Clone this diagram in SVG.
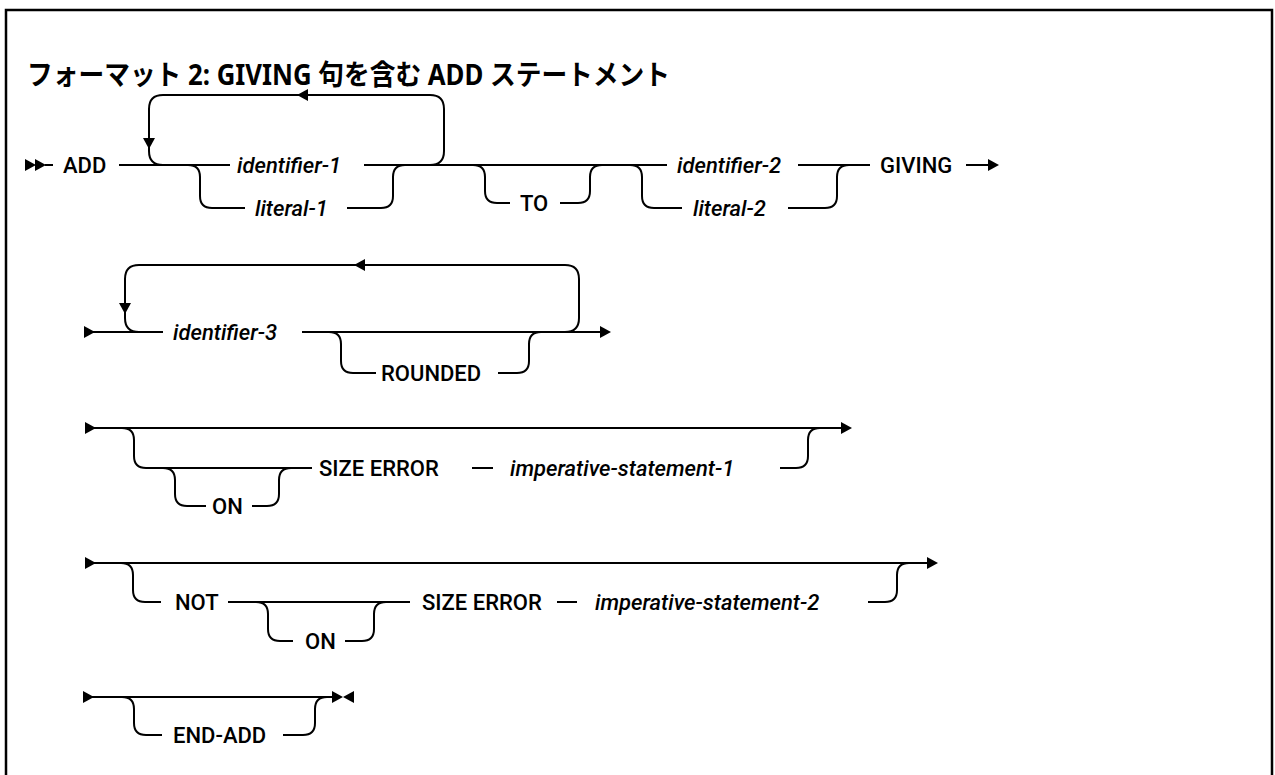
<svg xmlns="http://www.w3.org/2000/svg" width="1275" height="775" viewBox="0 0 1275 775">
<style>
.ln{fill:none;stroke:#000;stroke-width:2}
.ah{fill:#000;stroke:none}
.t{font-family:Roboto,"Noto Sans","Liberation Sans",sans-serif;font-size:22px;font-weight:500;fill:#000}
.i{font-style:italic}
.title{font-family:"Noto Sans","Noto Sans CJK JP",sans-serif;font-size:28px;font-weight:700;fill:#000}
</style>
<defs>
<path id="tr" d="M0,-6 L11,0 L0,6 Z" class="ah"/>
<path id="tl" d="M0,0 L11,-6 L11,6 Z" class="ah"/>
<path id="td" d="M-6,-11 L6,-11 L0,0 Z" class="ah"/>
</defs>
<rect x="6" y="10" width="1266" height="800" fill="#fff" stroke="#000" stroke-width="2.5"/>
<text class="title" x="27" y="85" textLength="643" lengthAdjust="spacingAndGlyphs">フォーマット 2: GIVING 句を含む ADD ステートメント</text>

<g id="connectors">
<!-- line 1 -->
<use href="#tr" x="25" y="165"/>
<use href="#tr" x="35" y="165"/>
<path class="ln" d="M45 165 L53 165"/>
<path class="ln" d="M119 165 L230 165"/>
<path class="ln" d="M430 165 Q444 165 444 151 L444 109 Q444 95 430 95 L163 95 Q149 95 149 109 L149 151 Q149 165 163 165"/>
<use href="#tl" x="297" y="95"/>
<use href="#td" x="149" y="149"/>
<path class="ln" d="M188 165 Q200 165 200 177 L200 196 Q200 208 212 208 L245 208"/>
<path class="ln" d="M347 208 L381 208 Q393 208 393 196 L393 177 Q393 165 405 165"/>
<path class="ln" d="M364 165 L667 165"/>
<path class="ln" d="M473 165 Q485 165 485 177 L485 191 Q485 203 497 203 L510 203"/>
<path class="ln" d="M560 203 L578 203 Q590 203 590 191 L590 177 Q590 165 602 165"/>
<path class="ln" d="M630 165 Q642 165 642 177 L642 196 Q642 208 654 208 L682 208"/>
<path class="ln" d="M788 208 L825 208 Q837 208 837 196 L837 177 Q837 165 849 165"/>
<path class="ln" d="M798 165 L870 165"/>
<path class="ln" d="M966 165 L989 165"/>
<use href="#tr" x="988" y="165"/>
<!-- line 2 -->
<use href="#tr" x="84" y="332"/>
<path class="ln" d="M93 332 L163 332"/>
<path class="ln" d="M565 332 Q579 332 579 318 L579 279 Q579 265 565 265 L139 265 Q125 265 125 279 L125 318 Q125 332 139 332"/>
<use href="#tl" x="354" y="265"/>
<use href="#td" x="125" y="314"/>
<path class="ln" d="M302 332 L601 332"/>
<use href="#tr" x="600" y="332"/>
<path class="ln" d="M329 332 Q341 332 341 344 L341 361 Q341 373 353 373 L376 373"/>
<path class="ln" d="M498 373 L517 373 Q529 373 529 361 L529 344 Q529 332 541 332"/>
<!-- line 3 -->
<use href="#tr" x="85" y="428"/>
<path class="ln" d="M94 428 L842 428"/>
<use href="#tr" x="841" y="428"/>
<path class="ln" d="M122 428 Q134 428 134 440 L134 456 Q134 468 146 468 L312 468"/>
<path class="ln" d="M163 468 Q175 468 175 480 L175 494 Q175 506 187 506 L206 506"/>
<path class="ln" d="M252 506 L267 506 Q279 506 279 494 L279 480 Q279 468 291 468"/>
<path class="ln" d="M472 468 L493 468"/>
<path class="ln" d="M780 468 L796 468 Q808 468 808 456 L808 440 Q808 428 820 428"/>
<!-- line 4 -->
<use href="#tr" x="85" y="563"/>
<path class="ln" d="M94 563 L928 563"/>
<use href="#tr" x="927" y="563"/>
<path class="ln" d="M121 563 Q133 563 133 575 L133 590 Q133 602 145 602 L161 602"/>
<path class="ln" d="M228 602 L410 602"/>
<path class="ln" d="M256 602 Q268 602 268 614 L268 629 Q268 641 280 641 L293 641"/>
<path class="ln" d="M345 641 L362 641 Q374 641 374 629 L374 614 Q374 602 386 602"/>
<path class="ln" d="M557 602 L577 602"/>
<path class="ln" d="M868 602 L885 602 Q897 602 897 590 L897 575 Q897 563 909 563"/>
<!-- line 5 -->
<use href="#tr" x="83" y="697"/>
<path class="ln" d="M92 697 L334 697"/>
<use href="#tr" x="332" y="697"/>
<use href="#tl" x="343" y="697"/>
<path class="ln" d="M122 697 Q134 697 134 709 L134 723 Q134 735 146 735 L162 735"/>
<path class="ln" d="M283 735 L303 735 Q315 735 315 723 L315 709 Q315 697 327 697"/>
</g>

<g id="n-add"><text class="t" x="63" y="173">ADD</text></g>
<g id="n-identifier-1"><text class="t i" x="237" y="173">identifier-1</text></g>
<g id="n-literal-1"><text class="t i" x="255" y="216">literal-1</text></g>
<g id="n-to"><text class="t" x="520" y="211">TO</text></g>
<g id="n-identifier-2"><text class="t i" x="677" y="173">identifier-2</text></g>
<g id="n-literal-2"><text class="t i" x="693" y="216">literal-2</text></g>
<g id="n-giving"><text class="t" x="880" y="173">GIVING</text></g>
<g id="n-identifier-3"><text class="t i" x="173" y="340">identifier-3</text></g>
<g id="n-rounded"><text class="t" x="381" y="381">ROUNDED</text></g>
<g id="n-on-1"><text class="t" x="212" y="514">ON</text></g>
<g id="n-size-error-1"><text class="t" x="319" y="476">SIZE ERROR</text></g>
<g id="n-imperative-1"><text class="t i" x="510" y="476">imperative-statement-1</text></g>
<g id="n-not"><text class="t" x="175" y="610">NOT</text></g>
<g id="n-on-2"><text class="t" x="305" y="649">ON</text></g>
<g id="n-size-error-2"><text class="t" x="422" y="610">SIZE ERROR</text></g>
<g id="n-imperative-2"><text class="t i" x="595" y="610">imperative-statement-2</text></g>
<g id="n-end-add"><text class="t" x="173" y="743">END-ADD</text></g>
</svg>
